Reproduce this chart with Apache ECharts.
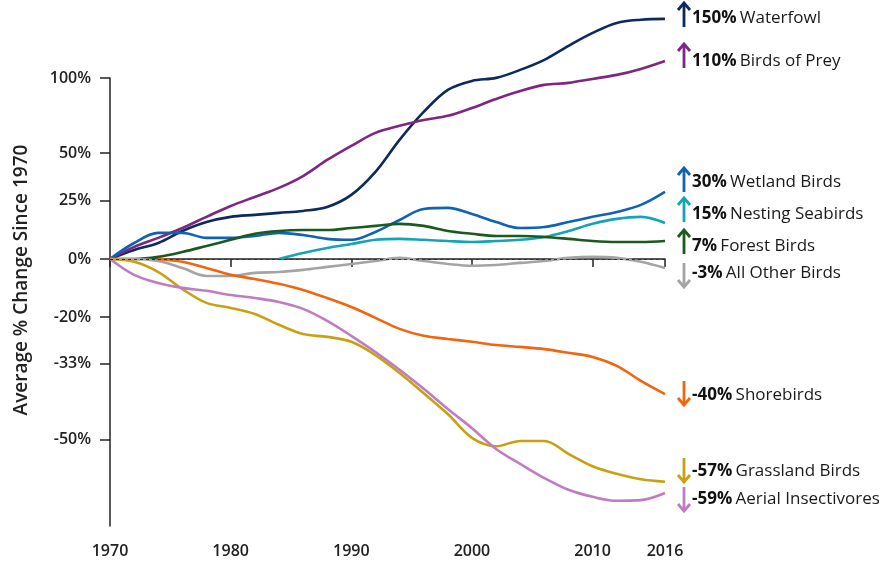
<!DOCTYPE html>
<html><head><meta charset="utf-8">
<script src="https://cdn.jsdelivr.net/npm/echarts@6/dist/echarts.min.js"></script>
<style>html,body{margin:0;padding:0;background:#fff}#c{width:885px;height:587px}</style>
</head><body><div id="c"></div>
<script>
// ---- DATA (percent change since 1970, every 2 years) ----
const years = [1970,1972,1974,1976,1978,1980,1982,1984,1986,1988,1990,1992,1994,1996,1998,2000,2002,2004,2006,2008,2010,2012,2014,2016];
const waterfowl = [0,3.5,6.3,11.3,15.2,17.5,18.4,19.3,20.2,22.0,27.8,39.6,57.8,75.6,91.1,97.8,100.1,106.3,114.4,126.2,137.7,147.0,150.0,150.8];
const birdsOfPrey = [0,4.7,8.4,12.6,17.5,22.5,26.8,31.3,37.4,46.1,54.2,62.1,66.5,70.3,73.0,78.3,84.6,90.3,94.8,96.3,99.3,102.4,107.1,113.5];
const wetlandBirds = [0,6.3,10.5,10.5,8.4,8.4,9.2,10.5,9.6,8.0,7.6,10.9,16.1,21.1,21.6,18.8,15.2,12.6,13.0,15.2,17.5,19.7,23.0,29.3];
const nestingSeabirds = [null,null,null,null,null,null,null,0,2.3,4.3,5.9,7.6,8.0,7.6,7.1,6.7,7.1,7.6,8.8,11.3,14.4,16.6,17.5,14.8];
const forestBirds = [0,0,0.8,2.7,5.1,7.6,10.1,11.3,11.7,11.7,12.6,13.5,14.4,13.5,11.3,10.1,9.2,9.2,8.8,8.0,7.1,6.7,6.7,7.1];
const allOtherBirds = [0,0,-0.8,-3.4,-6.3,-6.3,-5.2,-4.9,-4.1,-3.0,-1.9,-0.8,0.4,-0.8,-1.9,-2.6,-2.3,-1.5,-0.8,0.4,0.8,0.4,-1.1,-3.4];
const shorebirds = [null,null,0,-1.1,-3.4,-5.9,-7.4,-9.1,-11.2,-13.9,-16.8,-20.2,-23.5,-25.5,-26.4,-27.2,-28.1,-28.6,-29.2,-30.2,-31.3,-33.6,-37.3,-40.4];
const grasslandBirds = [0,-1.1,-4.9,-10.9,-15.5,-17.1,-19.0,-22.3,-25.0,-25.8,-27.2,-30.8,-35.4,-40.2,-44.8,-49.6,-51.2,-50.2,-50.2,-52.6,-54.8,-56.1,-57.0,-57.4];
const aerialInsectivores = [0,-5.9,-8.8,-10.5,-11.5,-12.9,-13.9,-15.2,-17.4,-21.1,-25.5,-30.0,-34.6,-39.2,-43.7,-47.7,-51.7,-54.4,-56.8,-58.7,-59.8,-60.4,-60.3,-59.2];

const seriesNames = ['Waterfowl','Birds of Prey','Wetland Birds','Nesting Seabirds','Forest Birds','All Other Birds','Shorebirds','Grassland Birds','Aerial Insectivores'];
const seriesData = [waterfowl,birdsOfPrey,wetlandBirds,nestingSeabirds,forestBirds,allOtherBirds,shorebirds,grasslandBirds,aerialInsectivores];
const endPct = ['150%','110%','30%','15%','7%','-3%','-40%','-57%','-59%'];

const xTicks = [1970,1980,1990,2000,2010,2016];
const yTickPct = [100,50,25,0,-20,-33,-50];

// ---- STYLE ----
const colors = ['#0c2a5c','#7e2683','#0f63b0','#15a3b8','#1a5a1e','#a4a4a4','#f2640f','#c9a012','#c07cc2'];
const labelY = [18,61,182,214,246,273,395,471,499];
const arrowY = [15,56,180,210,242,275,393,470,499];
const FONT = '"Open Sans", "Noto Sans", sans-serif';

const toLog = p => Math.log(1 + p / 100);
const yTickVals = yTickPct.map(toLog);

const series = seriesData.map((arr, si) => {
  const data = [];
  arr.forEach((v, i) => { if (v !== null) data.push([years[i], toLog(v)]); });
  return {
    name: seriesNames[si], type: 'line', data, showSymbol: false, symbol: 'none',
    smooth: 0.35, clip: false, lineStyle: { color: colors[si], width: 2.6 },
    z: 3
  };
});
series.push({
  type: 'line', data: [], silent: true,
  markLine: { silent: true, symbol: 'none', label: { show: false },
    lineStyle: { type: [3, 3], color: '#333', width: 1 },
    data: [{ yAxis: 0 }] }, z: 1
});

const graphics = [{
  type: 'text', x: 22, y: 280, rotation: Math.PI / 2,
  style: { text: 'Average % Change Since 1970', fontSize: 19, fontWeight: 600, fontFamily: FONT,
    fill: '#222', align: 'center', verticalAlign: 'middle' }
}];
endPct.forEach((p, i) => {
  const up = !p.startsWith('-');
  const c = colors[i];
  graphics.push({
    type: 'group', x: 684, y: arrowY[i],
    children: [
      { type: 'line', shape: { x1: 0, y1: -12, x2: 0, y2: 12 }, style: { stroke: c, lineWidth: 2.8 } },
      { type: 'polyline', shape: { points: up ? [[-6, -5], [0, -12], [6, -5]] : [[-6, 5], [0, 12], [6, 5]] },
        style: { stroke: c, lineWidth: 2.8, fill: null } }
    ]
  });
  graphics.push({
    type: 'text', x: 692, y: labelY[i],
    style: {
      text: '{p|' + p + '} {n|' + seriesNames[i] + '}',
      verticalAlign: 'middle', align: 'left',
      rich: {
        p: { fontSize: 17, fontWeight: 'bold', fontFamily: FONT, fill: '#111' },
        n: { fontSize: 17, fontWeight: 500, fontFamily: FONT, fill: '#1a1a1a' }
      }
    }
  });
});

const chart = echarts.init(document.getElementById('c'), null, { renderer: 'canvas' });
chart.setOption({
  animation: false,
  backgroundColor: '#fff',
  grid: { left: 110, right: 220, top: 78, bottom: 61, containLabel: false },
  xAxis: {
    type: 'value', min: 1970, max: 2016,
    axisLine: { show: true, lineStyle: { color: '#222', width: 1.5 } },
    axisTick: { show: true, customValues: xTicks, length: 8, lineStyle: { color: '#222', width: 1.5 } },
    axisLabel: { customValues: xTicks, margin: 17, fontSize: 16, fontWeight: 600, fontFamily: FONT, color: '#222',
      formatter: v => String(v) },
    splitLine: { show: false }
  },
  yAxis: {
    type: 'value', min: -1.023, max: Math.log(2),
    axisLine: { show: true, lineStyle: { color: '#222', width: 1.5 } },
    axisTick: { show: true, customValues: yTickVals, length: 10, lineStyle: { color: '#222', width: 1.5 } },
    axisLabel: { customValues: yTickVals, margin: 19, fontSize: 16, fontWeight: 600, fontFamily: FONT, color: '#222',
      formatter: v => Math.round((Math.exp(v) - 1) * 100) + '%' },
    splitLine: { show: false }
  },
  series,
  graphic: graphics
});
</script></body></html>
